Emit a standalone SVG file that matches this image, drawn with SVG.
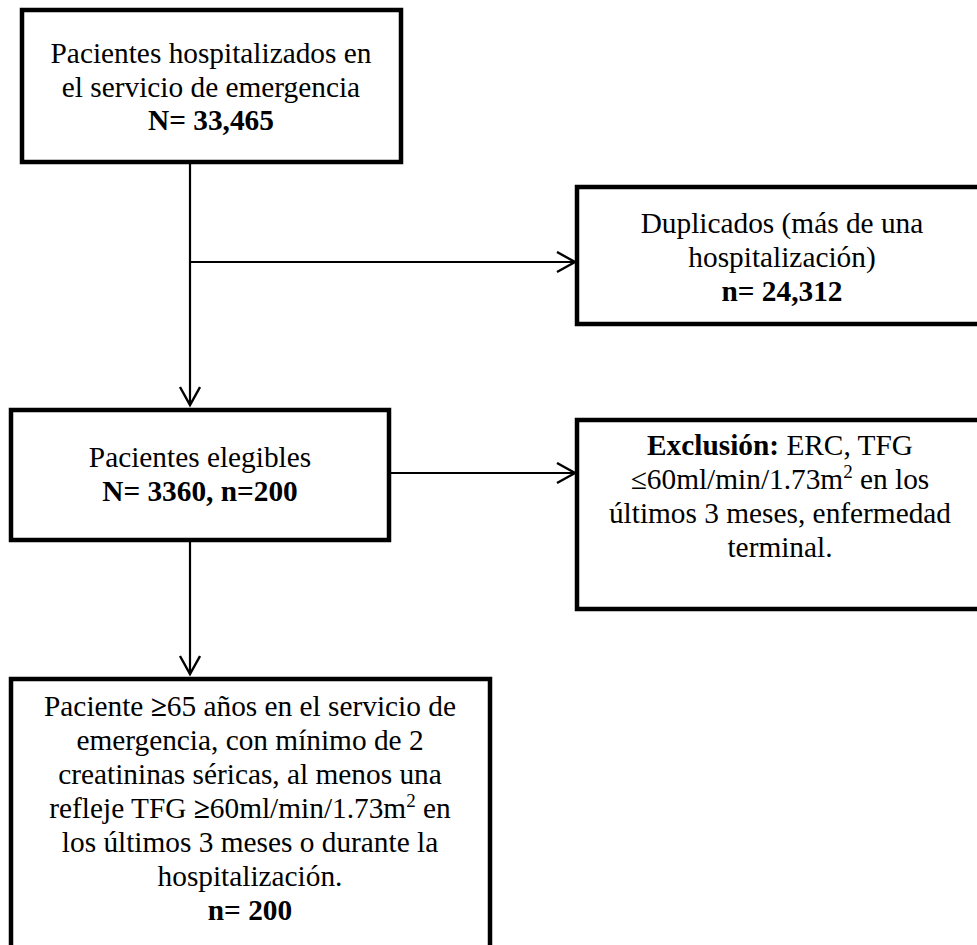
<svg xmlns="http://www.w3.org/2000/svg" width="977" height="945" viewBox="0 0 977 945">
<style>
.box{fill:#fff;stroke:#000;stroke-width:4.5}
.t{font-family:"Liberation Serif","Times New Roman",serif;font-size:29.33px;fill:#000;text-anchor:middle}
.b{font-weight:bold}
.c{fill:none;stroke:#000;stroke-width:2.2}
</style>
<defs>
<marker id="ah" markerUnits="userSpaceOnUse" markerWidth="24" markerHeight="26" refX="19" refY="11" orient="auto" viewBox="0 0 24 26">
<path d="M1,1 L19,11 L1,21" fill="none" stroke="#000" stroke-width="2.4"/>
</marker>
</defs>
<rect width="977" height="945" fill="#fff"/>
<g id="connectors">
<line class="c" x1="190" y1="164" x2="190" y2="405" marker-end="url(#ah)"/>
<line class="c" x1="190" y1="262" x2="575" y2="262" marker-end="url(#ah)"/>
<line class="c" x1="391" y1="473" x2="575" y2="473" marker-end="url(#ah)"/>
<line class="c" x1="190" y1="542" x2="190" y2="674" marker-end="url(#ah)"/>
</g>
<g id="n1">
<rect class="box" x="22" y="10" width="379" height="152"/>
<text class="t" x="211" y="63">Pacientes hospitalizados en</text>
<text class="t" x="211" y="97">el servicio de emergencia</text>
<text class="t b" x="211" y="130">N= 33,465</text>
</g>
<g id="n2">
<rect class="box" x="577" y="187" width="410" height="137"/>
<text class="t" x="782" y="233">Duplicados (más de una</text>
<text class="t" x="782" y="267">hospitalización)</text>
<text class="t b" x="782" y="301">n= 24,312</text>
</g>
<g id="n3">
<rect class="box" x="11" y="410" width="378" height="130"/>
<text class="t" x="200" y="467">Pacientes elegibles</text>
<text class="t b" x="200" y="501">N= 3360, n=200</text>
</g>
<g id="n4">
<rect class="box" x="577" y="420" width="410" height="189"/>
<text class="t" x="780" y="455"><tspan class="b">Exclusión:</tspan> ERC, TFG</text>
<text class="t" x="780" y="489">≤60ml/min/1.73m<tspan font-size="19" dy="-11">2</tspan><tspan dy="11"> en los</tspan></text>
<text class="t" x="780" y="523">últimos 3 meses, enfermedad</text>
<text class="t" x="780" y="557">terminal.</text>
</g>
<g id="n5">
<rect class="box" x="11" y="679" width="479" height="290"/>
<text class="t" x="250" y="716">Paciente <tspan class="b">≥</tspan>65 años en el servicio de</text>
<text class="t" x="250" y="750">emergencia, con mínimo de 2</text>
<text class="t" x="250" y="784">creatininas séricas, al menos una</text>
<text class="t" x="250" y="818">refleje TFG <tspan class="b">≥</tspan>60ml/min/1.73m<tspan font-size="19" dy="-11">2</tspan><tspan dy="11"> en</tspan></text>
<text class="t" x="250" y="852">los últimos 3 meses o durante la</text>
<text class="t" x="250" y="886">hospitalización.</text>
<text class="t b" x="250" y="920">n= 200</text>
</g>
</svg>
